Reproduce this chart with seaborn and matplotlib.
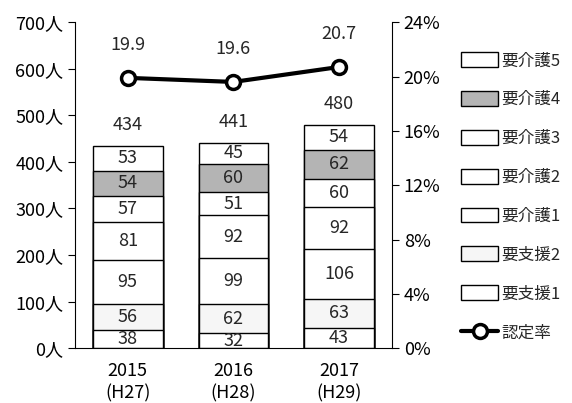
import numpy as np
import pandas as pd
import seaborn as sns
import matplotlib
matplotlib.use("Agg")
from matplotlib import pyplot as plt
from matplotlib.patches import Patch
from matplotlib.lines import Line2D

years = ["2015\n(H27)", "2016\n(H28)", "2017\n(H29)"]
levels = ["要支援1", "要支援2", "要介護1", "要介護2", "要介護3", "要介護4", "要介護5"]
shien1 = [38, 32, 43]
shien2 = [56, 62, 63]
kaigo1 = [95, 99, 106]
kaigo2 = [81, 92, 92]
kaigo3 = [57, 51, 60]
kaigo4 = [54, 60, 62]
kaigo5 = [53, 45, 54]
rate = [19.9, 19.6, 20.7]

counts = np.array([shien1, shien2, kaigo1, kaigo2, kaigo3, kaigo4, kaigo5])
fills = ["white", "#f6f6f6", "white", "white", "white", "#b4b4b4", "white"]

sns.set_style("white")
plt.rcParams["font.family"] = ["Noto Sans CJK JP", "DejaVu Sans"]
FS = 13

fig = plt.figure(figsize=(5.72, 4.03), dpi=100)
ax = fig.add_axes([0.131, 0.136, 0.554, 0.809])

# stacked bars: draw cumulative totals from the top segment down
cum = np.cumsum(counts, axis=0)
for i in range(len(levels) - 1, -1, -1):
    sns.barplot(x=years, y=cum[i], ax=ax, color=fills[i], edgecolor="black",
                linewidth=1, width=0.66, saturation=1)

# segment labels
for j in range(len(years)):
    for i in range(len(levels)):
        bottom = cum[i][j] - counts[i][j]
        ax.text(j, bottom + counts[i][j] / 2, str(counts[i][j]), ha="center",
                va="center", fontsize=FS)
    ax.text(j, cum[-1][j] + 45, str(cum[-1][j]), ha="center", va="center", fontsize=FS)

ax.set_ylim(0, 700)
ax.set_xlim(-0.5, 2.5)
ax.set_yticks(range(0, 701, 100))
ax.set_yticklabels([f"{v}人" for v in range(0, 701, 100)])
ax.tick_params(axis="both", labelsize=FS, length=5, direction="out", colors="black")
ax.tick_params(axis="x", length=0, pad=10)
for lbl in ax.get_xticklabels():
    lbl.set_linespacing(1.3)
ax.set_ylabel("")
for s in ["top", "right"]:
    ax.spines[s].set_visible(False)
for s in ["left", "bottom"]:
    ax.spines[s].set_color("black")
    ax.spines[s].set_linewidth(0.8)

ax2 = ax.twinx()
sns.lineplot(x=years, y=rate, ax=ax2, color="black", linewidth=3, marker="o",
             markersize=10, markerfacecolor="white", markeredgecolor="black",
             markeredgewidth=2.5)
for j, r in enumerate(rate):
    ax2.text(j, r + 2.4, f"{r:.1f}", ha="center", va="center", fontsize=FS)
ax2.set_ylim(0, 24)
ax2.set_yticks(range(0, 25, 4))
ax2.set_yticklabels([f"{v}%" for v in range(0, 25, 4)])
ax2.tick_params(axis="y", labelsize=FS, length=5, direction="out", colors="black")
ax2.set_ylabel("")
for s in ["top", "left", "bottom"]:
    ax2.spines[s].set_visible(False)
ax2.spines["right"].set_color("black")
ax2.spines["right"].set_linewidth(0.8)

handles = [Patch(facecolor=fills[i], edgecolor="black", linewidth=1, label=levels[i])
           for i in range(len(levels) - 1, -1, -1)]
handles.append(Line2D([0], [0], color="black", linewidth=3, marker="o", markersize=10,
                      markerfacecolor="white", markeredgecolor="black",
                      markeredgewidth=2.5, label="認定率"))
fig.legend(handles=handles, loc="upper left", bbox_to_anchor=(0.795, 0.887),
           frameon=False, fontsize=12, handlelength=2.2, handleheight=1.0,
           labelspacing=1.3, handletextpad=0.2, borderaxespad=0)

fig.savefig("out.png", dpi=100)
